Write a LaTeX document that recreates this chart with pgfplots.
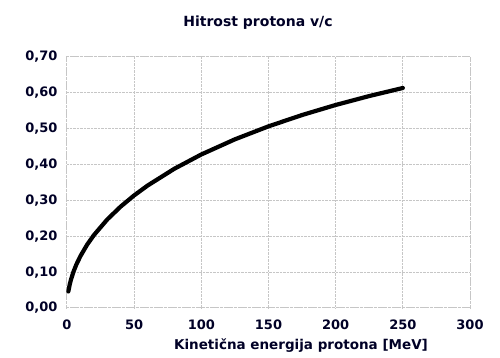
\documentclass[border=0pt]{standalone}
\usepackage{fontspec}
\setmainfont{DejaVu Sans}
\usepackage{pgfplots}
\pgfplotsset{compat=1.18}
\begin{document}
\begin{tikzpicture}
\begin{axis}[
  scale only axis,
  width=403pt, height=251pt,
  xmin=0, xmax=300, ymin=0, ymax=0.70,
  xtick={0,50,...,300},
  ytick={0,0.1,0.2,0.3,0.4,0.5,0.6,0.7},
  grid=major,
  grid style={gray!45, densely dotted, line width=1pt},
  axis line style={gray!45, densely dotted, line width=1pt},
  tick style={draw=none},
  /pgf/number format/assume math mode=true,
  yticklabel style={/pgf/number format/fixed, /pgf/number format/fixed zerofill, /pgf/number format/precision=2, /pgf/number format/use comma, xshift=-6pt},
  xticklabel style={/pgf/number format/fixed, /pgf/number format/precision=0, yshift=-8pt},
  ticklabel style={font=\bfseries\fontsize{13}{15}\selectfont, text=black!85!blue},
  clip=false,
]
\addplot[black, line width=4.2pt, line cap=round] coordinates {
(1,0.0461) (2,0.0652) (3,0.0798) (5,0.1028) (7,0.1215) (10,0.1448) (15,0.1767) (20,0.2032)
(30,0.2470) (40,0.2830) (50,0.3141) (60,0.3415) (80,0.3885) (100,0.4282)
(125,0.4704) (150,0.5066) (175,0.5382) (200,0.5662) (225,0.5911) (250,0.6136)
};
\coordinate (sw) at (rel axis cs:0,0);
\coordinate (ne) at (rel axis cs:1,1);
\end{axis}
\pgfresetboundingbox
\path (sw) ++(-67pt,-50pt) coordinate (bsw);
\path (ne) ++(30pt,57pt) coordinate (bne);
\path[use as bounding box] (bsw) rectangle (bne);
\node[font=\bfseries\fontsize{14}{16}\selectfont, text=black!85!blue] at ([xshift=258pt,yshift=-23pt]bsw |- bne) {Hitrost protona v/c};
\node[font=\bfseries\fontsize{13.5}{16}\selectfont, text=black!85!blue] at ([xshift=301pt,yshift=12pt]bsw) {Kinetična energija protona [MeV]};
\end{tikzpicture}
\end{document}
